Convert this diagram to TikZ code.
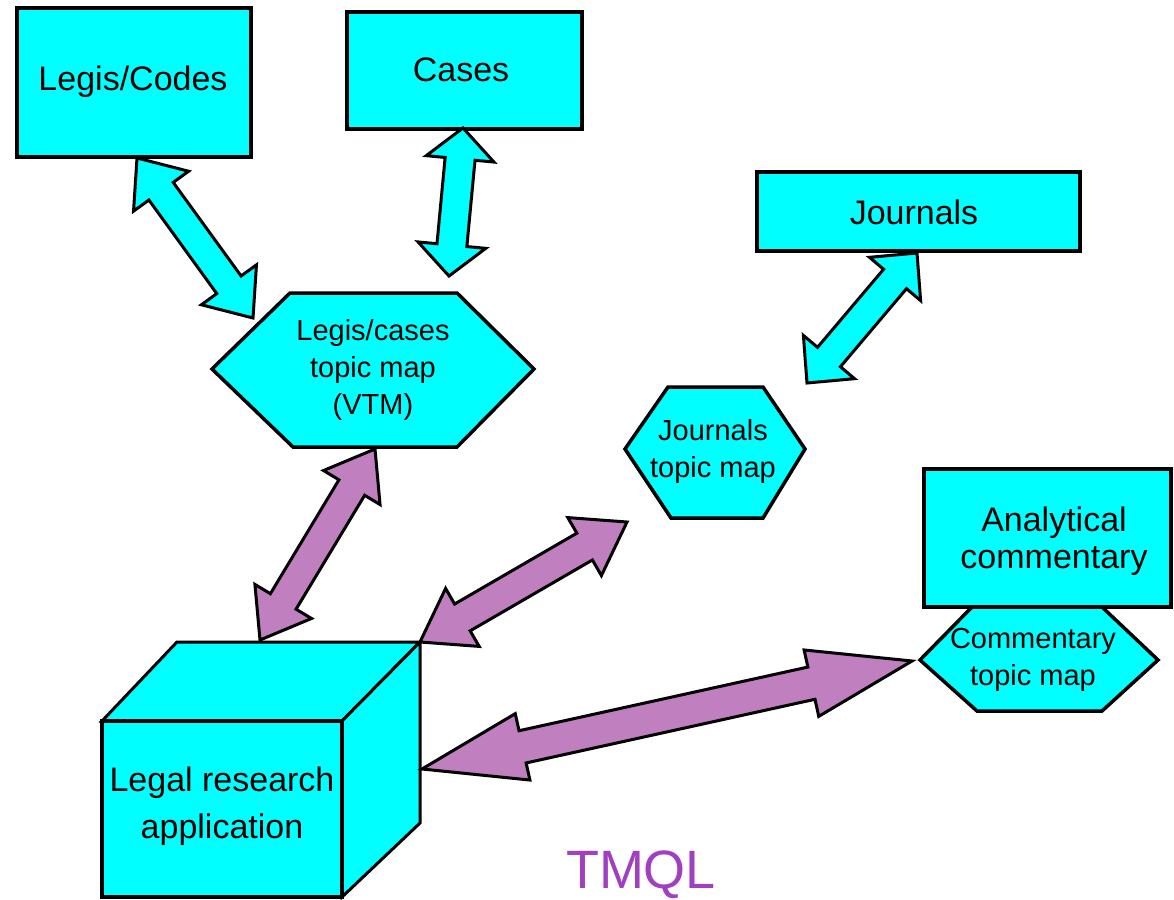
\documentclass[tikz,border=0pt]{standalone}
\usepackage{fontspec}
\setmainfont{Liberation Sans}
\usetikzlibrary{calc}
\definecolor{cyanfill}{RGB}{0,255,255}
\definecolor{purplefill}{RGB}{192,128,192}
\definecolor{tmqlcol}{RGB}{160,64,192}
\tikzset{
  shapebox/.style={draw=black, line width=3.5pt, fill=cyanfill, line join=miter},
  cubeedge/.style={draw=black, line width=3pt, fill=cyanfill, line join=miter},
  biglbl/.style={font=\fontsize{34}{37}\selectfont, align=center, inner sep=0pt},
  hexlbl/.style={font=\fontsize{29}{37}\selectfont, align=center, inner sep=0pt},
  cubelbl/.style={font=\fontsize{34}{47}\selectfont, align=center, inner sep=0pt},
  blkarrow/.style={draw=black, line width=3pt, line join=miter},
}
% #1 end A, #2 end B, #3 fill, #4 head length, #5 head half width, #6 shaft half width
\newcommand\blockarrow[6]{%
  \path ($(#1)!#4!(#2)$) coordinate (ha) ($(#2)!#4!(#1)$) coordinate (hb);
  \draw[blkarrow, fill=#3] (#1) -- ($(ha)!#5!90:(#2)$) -- ($(ha)!#6!90:(#2)$)
    -- ($(hb)!#6!-90:(#1)$) -- ($(hb)!#5!-90:(#1)$) -- (#2)
    -- ($(hb)!#5!90:(#1)$) -- ($(hb)!#6!90:(#1)$)
    -- ($(ha)!#6!-90:(#2)$) -- ($(ha)!#5!-90:(#2)$) -- cycle;
}
\begin{document}
\begin{tikzpicture}[x=1pt,y=-1pt]
\useasboundingbox (0,0) rectangle (1174,899);
% rectangles
\draw[shapebox] (17,8) rectangle (251,157);
\node[biglbl] (legis) at (133,82) {Legis/Codes};
\draw[shapebox] (347,12) rectangle (582,129);
\node[biglbl] (cases) at (461,70) {Cases};
\draw[shapebox] (757,172) rectangle (1080,251);
\node[biglbl] (journals) at (914,212) {Journals};
% hexagons
\draw[shapebox] (290,293) -- (457,293) -- (534,369) -- (457,447) -- (293,447) -- (212,369) -- cycle;
\node[hexlbl] (lctm) at (373,370) {Legis/cases\\topic map\\(VTM)};
\draw[shapebox] (668,387) -- (763,387) -- (805,449) -- (763,518) -- (671,518) -- (625,449) -- cycle;
\node[hexlbl] (jtm) at (713,451) {Journals\\topic map};
\draw[shapebox] (972,607) -- (1102,607) -- (1158,660) -- (1102,711) -- (977,711) -- (920,660) -- cycle;
\node[hexlbl] (ctm) at (1033,660) {Commentary\\topic map};
\draw[shapebox] (924,469) rectangle (1171,607);
\node[biglbl] (anal) at (1054,541) {Analytical\\commentary};
% cube
\draw[cubeedge] (102,721) -- (177,642) -- (420,642) -- (342,721) -- cycle;
\draw[cubeedge] (342,721) -- (420,642) -- (420,823) -- (342,897) -- cycle;
\draw[shapebox] (102,721) rectangle (342,897);
\node[cubelbl] (lra) at (222,806) {Legal research\\application};
% arrow end points
\coordinate (a1s) at (137,158); \coordinate (a1e) at (253,318);
\coordinate (a2s) at (463,128); \coordinate (a2e) at (449,276);
\coordinate (a3s) at (917,253); \coordinate (a3e) at (807,383);
\coordinate (a4s) at (375,449); \coordinate (a4e) at (260,640);
\coordinate (a5s) at (420,642); \coordinate (a5e) at (627,522);
\coordinate (a6s) at (422,769); \coordinate (a6e) at (912,661);
% arrows
\blockarrow{a1s}{a1e}{cyanfill}{41pt}{34pt}{15pt}
\blockarrow{a2s}{a2e}{cyanfill}{31pt}{34pt}{15pt}
\blockarrow{a3s}{a3e}{cyanfill}{34pt}{33.5pt}{15pt}
\blockarrow{a4s}{a4e}{purplefill}{45pt}{33pt}{15pt}
\blockarrow{a5s}{a5e}{purplefill}{49pt}{33.5pt}{15.5pt}
\blockarrow{a6s}{a6e}{purplefill}{103pt}{34pt}{16.5pt}
% TMQL
\node[font=\fontsize{54}{60}\selectfont, text=tmqlcol, inner sep=0pt] (tmql) at (641,875) {TMQL};
\end{tikzpicture}
\end{document}
